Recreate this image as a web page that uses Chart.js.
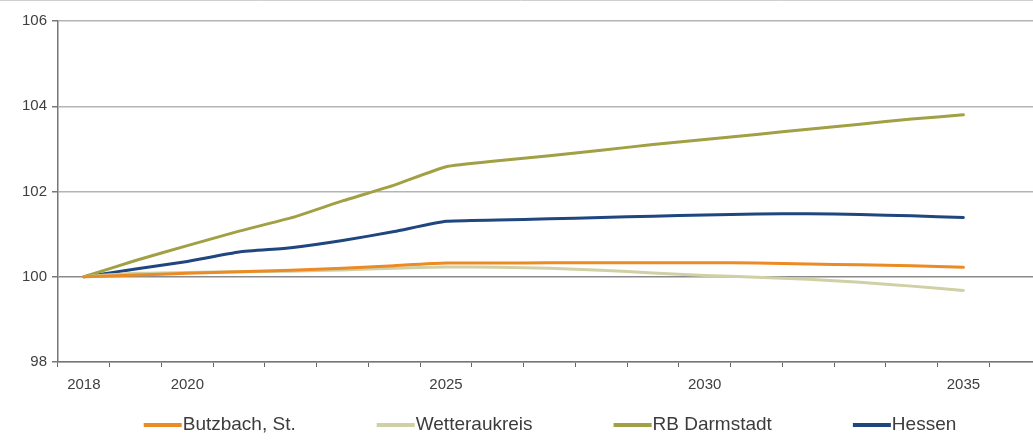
<!DOCTYPE html>
<html>
<head>
<meta charset="utf-8">
<script src="https://cdn.jsdelivr.net/npm/chart.js@4/dist/chart.umd.min.js"></script>
<style>
  html, body { margin: 0; padding: 0; background: #fff; overflow: hidden; }
  #wrap { position: relative; width: 1041px; height: 446px; }
</style>
</head>
<body>
<div id="wrap"><canvas id="c"></canvas></div>
<script>
// ---- data ----
const years = [2018, 2019, 2020, 2021, 2022, 2023, 2024, 2025, 2026, 2027, 2028, 2029, 2030, 2031, 2032, 2033, 2034, 2035];
const shownYearLabels = ['2018', '2020', '2025', '2030', '2035'];
const yTicks = [98, 100, 102, 104, 106];
const seriesNames = ['Butzbach, St.', 'Wetteraukreis', 'RB Darmstadt', 'Hessen'];
const butzbach = [100, 100.04, 100.08, 100.12, 100.15, 100.2, 100.26, 100.32, 100.32, 100.33, 100.33, 100.33, 100.33, 100.32, 100.3, 100.28, 100.26, 100.22];
const wetterau = [100, 100.08, 100.1, 100.12, 100.13, 100.16, 100.2, 100.23, 100.22, 100.2, 100.15, 100.09, 100.03, 99.99, 99.94, 99.87, 99.78, 99.68];
const darmstadt = [100, 100.38, 100.73, 101.07, 101.38, 101.78, 102.15, 102.58, 102.72, 102.84, 102.97, 103.1, 103.22, 103.34, 103.46, 103.58, 103.7, 103.8];
const hessen = [100, 100.18, 100.36, 100.58, 100.68, 100.85, 101.06, 101.3, 101.33, 101.36, 101.39, 101.42, 101.45, 101.47, 101.48, 101.46, 101.43, 101.39];
const seriesColors = ['#EC8A24', '#CFD0A6', '#A2A045', '#1F467F'];

// one empty slot after the last year (axis continues past 2035)
const categoryLabels = years.map(String).concat(['']);
const seriesValues = [butzbach, wetterau, darmstadt, hessen];

const FONT = '"Liberation Sans", Arial, sans-serif';

const topLinePlugin = {
  id: 'topLine',
  beforeDraw(chart) {
    const ctx = chart.ctx;
    ctx.save();
    ctx.strokeStyle = '#cfcfcf';
    ctx.lineWidth = 1;
    ctx.beginPath();
    ctx.moveTo(0, 0.5);
    ctx.lineTo(chart.width, 0.5);
    ctx.stroke();
    ctx.restore();
  }
};

const legendPlugin = {
  id: 'customLegend',
  afterDraw(chart) {
    const ctx = chart.ctx;
    const area = chart.chartArea;
    ctx.save();
    ctx.font = '19px ' + FONT;
    const sample = 38, gap = 82, y = 425;
    const items = chart.data.datasets.map(ds => ({
      label: ds.label, color: ds.borderColor, w: ctx.measureText(ds.label).width
    }));
    const total = items.reduce((s, it) => s + sample + it.w, 0) + gap * (items.length - 1);
    let x = (area.left + area.right) / 2 - total / 2;
    items.forEach(it => {
      ctx.strokeStyle = it.color;
      ctx.lineWidth = 4;
      ctx.lineCap = 'butt';
      ctx.beginPath();
      ctx.moveTo(x, y);
      ctx.lineTo(x + sample, y);
      ctx.stroke();
      ctx.fillStyle = '#3c3c3c';
      ctx.textBaseline = 'middle';
      ctx.textAlign = 'left';
      ctx.fillText(it.label, x + sample + 1, y);
      x += sample + it.w + gap;
    });
    ctx.restore();
  }
};

new Chart(document.getElementById('c'), {
  type: 'line',
  data: {
    labels: categoryLabels,
    datasets: seriesNames.map((name, i) => ({
      label: name,
      data: seriesValues[i],
      borderColor: seriesColors[i],
      backgroundColor: seriesColors[i],
      borderWidth: 3,
      pointRadius: 0,
      tension: 0.15,
      borderCapStyle: 'round',
      borderJoinStyle: 'round',
      fill: false
    }))
  },
  options: {
    responsive: true,
    maintainAspectRatio: false,
    animation: false,
    layout: { padding: { top: 21, right: 0, bottom: 40, left: 0 } },
    plugins: {
      legend: { display: false },
      tooltip: { enabled: false }
    },
    scales: {
      x: {
        type: 'category',
        offset: true,
        afterFit(scale) { scale.height = 44; },
        grid: {
          offset: true,
          drawOnChartArea: false,
          drawTicks: true,
          tickLength: 5,
          color: '#666'
        },
        border: { display: true, color: '#777', width: 1.5 },
        ticks: {
          autoSkip: false,
          maxRotation: 0,
          minRotation: 0,
          padding: 9,
          color: '#404040',
          font: { family: FONT, size: 15 },
          callback(value) {
            const lab = this.getLabelForValue(value);
            return shownYearLabels.includes(lab) ? lab : '';
          }
        }
      },
      y: {
        min: 98,
        max: 106,
        afterFit(scale) { scale.width = 58; },
        afterBuildTicks(scale) { scale.ticks = yTicks.map(v => ({ value: v })); },
        grid: {
          drawOnChartArea: true,
          drawTicks: true,
          tickLength: 6,
          lineWidth: 1.5,
          color(ctx) { return ctx.tick && ctx.tick.value === 100 ? '#8a8a8a' : '#b4b4b4'; },
          tickColor: '#777'
        },
        border: { display: true, color: '#777', width: 1.5 },
        ticks: {
          padding: 5,
          color: '#404040',
          font: { family: FONT, size: 15 }
        }
      }
    }
  },
  plugins: [topLinePlugin, legendPlugin]
});
</script>
</body>
</html>
